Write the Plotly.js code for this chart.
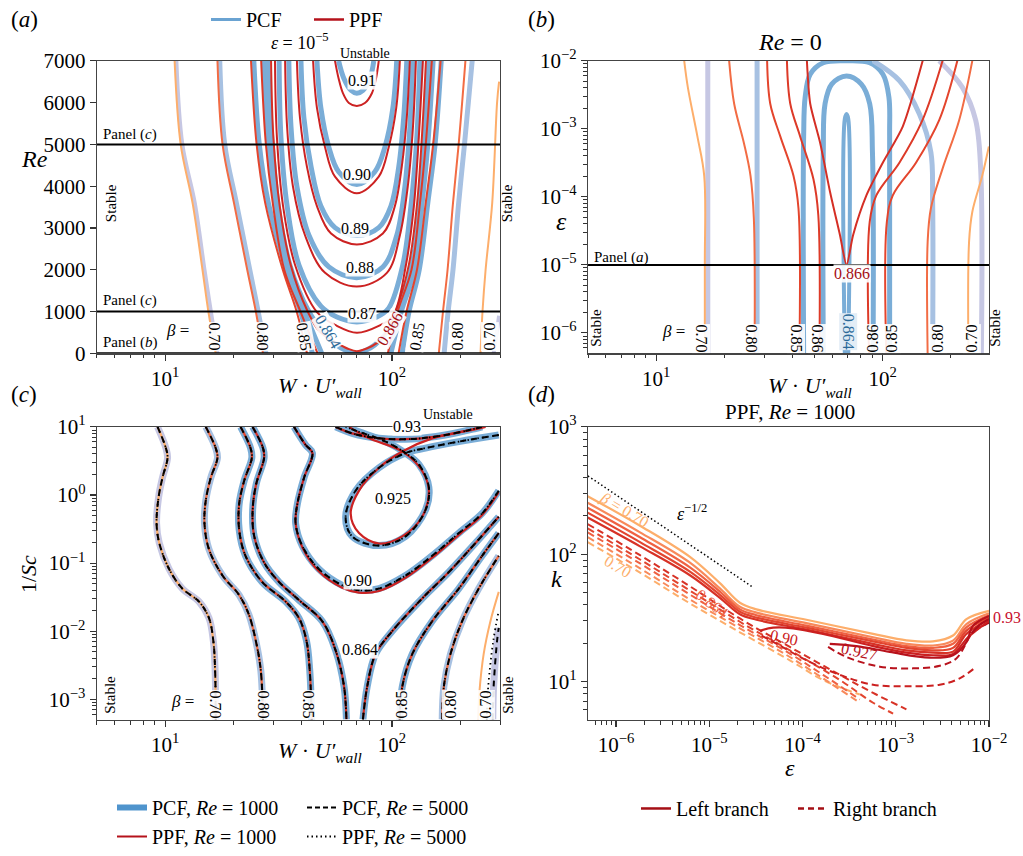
<!DOCTYPE html>
<html><head><meta charset="utf-8">
<script src="https://cdn.plot.ly/plotly-3.0.1.min.js"></script>
<style>html,body{margin:0;padding:0;background:#fff}#chart{width:1023px;height:856px}</style>
</head><body><div id="chart"></div>
<script>
// ---------------- Panel (a): eps = 1e-5, Re vs W*U'wall ----------------
const aReArm   = [7000, 5000, 3600, 2000, 1000, 0];
const aPpf070L = [11.0, 11.7, 13.2, 14.6, 15.5, 16.7];
const aPcf070L = [11.2, 11.9, 13.5, 14.9, 15.9, 17.0];
const aPpf080L = [17.0, 17.9, 20.1, 23.0, 25.1, 27.0];
const aPcf080L = [17.4, 18.3, 20.6, 23.6, 25.7, 27.8];
const aPpf085L = [23.9, 25.3, 27.6, 33.0, 38.0, 42.2];
const aPcf085L = [24.6, 26.0, 28.5, 34.2, 39.5, 44.6];
const aPpf086L = [26.5, 27.8, 29.8, 33.5, 39.5, 47.0];
const aPcf086L = [27.2, 28.6, 30.6, 34.5, 41.0, 49.0];
const aPpf086R = [150, 141, 133, 122, 106, 96];
const aPcf086R = [152, 144, 136, 126, 110, 99];
const aPpf085R = [164, 152, 141, 129, 116, 107];
const aPcf085R = [165, 155, 144, 132, 119, 111];
const aPpf080R = [211, 197, 186, 176, 168, 161];
const aPcf080R = [226, 209, 197, 186, 177, 170];
const aRe070R  = [6500, 6000, 3600, 2000, 1000, 0];
const aPpf070R = [297, 291, 277, 259, 251, 246];
const aRe070Rb = [900, 500, 0];
const aPcf070R = [297, 290, 281];
const aPcf0864W  = [28.3, 29.5, 31.5, 35.5, 43, 50, 57, 63, 69, 76, 84, 95, 106, 122.6, 132.8, 139.7, 145.5];
const aPcf0864Re = [7000, 5170, 3520, 2110, 1000, 500, 200, 60, 0, 60, 200, 500, 1000, 2110, 3520, 5170, 7000];
const aPpf0866W  = [29.3, 30.0, 32.0, 35.8, 42.5, 48, 57, 64, 70, 77, 86, 95, 104, 118.7, 128.8, 135.6, 141.3];
const aPpf0866Re = [7000, 5170, 3520, 2110, 1000, 520, 250, 110, 50, 110, 250, 520, 1000, 2110, 3520, 5170, 7000];
const aPpf087W  = [30.5, 31.1, 33.1, 37.4, 46.7, 57.2, 70, 87.5, 101, 115.3, 125, 131.4, 137];
const aPpf087Re = [7000, 5168, 3524, 2114, 987, 658, 493, 658, 893, 2114, 3524, 5168, 7000];
const aPcf087W  = [31.8, 32.4, 34.5, 38.9, 48.6, 57.2, 70, 85.8, 96.8, 111.7, 121.3, 128.8, 132.8];
const aPcf087Re = [7000, 5168, 3524, 2114, 1128, 869, 752, 869, 1081, 2114, 3524, 5168, 7000];
const aPcf088W  = [35.1, 35.9, 38.1, 43.1, 52.7, 70, 91.2, 105, 114.1, 120, 123.8];
const aPcf088Re = [7000, 5403, 3993, 2819, 2067, 1809, 2067, 2819, 3993, 5403, 7000];
const aPpf088W  = [33.8, 34.5, 36.6, 41.4, 50.7, 70, 95.0, 108.4, 117.5, 123.8, 127.6];
const aPpf088Re = [7000, 5403, 3993, 2819, 1926, 1597, 1926, 2819, 3993, 5403, 7000];
const aPcf089W  = [39.7, 40.9, 44.0, 48.6, 56.1, 70, 87.5, 99.0, 107.2, 112.7, 116.3];
const aPcf089Re = [7000, 5638, 4463, 3524, 3007, 2819, 3007, 3524, 4463, 5638, 7000];
const aPpf089W  = [38.1, 39.3, 42.2, 46.7, 53.9, 70, 91.2, 103.1, 110.5, 116.3, 120.0];
const aPpf089Re = [7000, 5638, 4463, 3524, 2866, 2607, 2866, 3524, 4463, 5638, 7000];
const aPcf090W  = [46.7, 48.6, 52.7, 58.2, 70, 84.1, 93.1, 101, 105];
const aPcf090Re = [7000, 5873, 4933, 4346, 4040, 4346, 4933, 5873, 7000];
const aPpf090W  = [44.9, 46.7, 50.7, 56.1, 70, 87.5, 96.8, 104.5, 108.4];
const aPpf090Re = [7000, 5873, 4933, 4228, 3829, 4228, 4933, 5873, 7000];
const aPcf091W  = [58.2, 61.4, 65.9, 70.0, 74.5, 80.0, 83.2];
const aPcf091Re = [7000, 6577, 6295, 6225, 6295, 6577, 7000];
const aPpf091W  = [56.1, 58.2, 60.8, 64.6, 70.0, 76.0, 81.6, 85.1, 87.5];
const aPpf091Re = [7000, 6577, 6225, 5990, 5920, 5990, 6225, 6577, 7000];
const panelW   = [5, 300];
const aPanelRe = [5000, 1000, 0];

// ---------------- Panel (b): Re = 0, eps vs W*U'wall ----------------
const bEdge    = [1e-2, 4.8e-7];
const bPcf070L = [16.9, 16.9];
const bPcf080L = [27.9, 27.9];
const bEps070L = [1e-2, 4.07e-3, 7.8e-4, 2.04e-4, 1.02e-5, 4.8e-7];
const bPpf070L = [13.3, 13.8, 15.2, 16.3, 16.4, 16.4];
const bEps080L = [1e-2, 2.34e-3, 6.2e-4, 2.04e-4, 4.8e-5, 4.8e-7];
const bPpf080L = [21.0, 22.1, 24.4, 26.1, 27.0, 27.2];
const bEps085L = [1e-2, 2.34e-3, 7.8e-4, 2.04e-4, 6.8e-5, 4.8e-7];
const bPpf085L = [30.9, 31.9, 35.3, 40.4, 42.5, 42.9];
const bEps086L = [1e-2, 2.34e-3, 7.8e-4, 1.82e-4, 5.4e-5, 4.8e-7];
const bPpf086L = [37.8, 39.1, 43.2, 49.5, 52.0, 52.6];
const bEps0866 = [1e-2, 2.34e-3, 6.2e-4, 1.18e-4, 2.75e-5, 1.0e-5, 2.75e-5, 1.05e-4, 3.2e-4, 1.08e-3, 1e-2];
const bPpf0866 = [46.3, 47.9, 53.0, 58.6, 64.8, 69.3, 74.1, 84.8, 100.3, 122.7, 150.3];
const bEps08xR = [1e-2, 1.34e-3, 3.2e-4, 1.05e-4, 4.3e-5, 4.8e-7];
const bPpf086R = [184, 150, 118.8, 93.8, 87.7, 87.1];
const bPpf085R = [213.8, 177.8, 140.6, 110.9, 104.4, 103.8];
const bEps080R = [1e-2, 1.34e-3, 2.6e-4, 6.8e-5, 2.2e-5, 4.8e-7];
const bPpf080R = [248.9, 217.8, 184, 163.4, 158.1, 158.1];
const bEps070R = [5.5e-4, 2.04e-4, 6.0e-5, 2.2e-5, 4.8e-7];
const bPpf070R = [294.6, 275.4, 248.9, 240.9, 239.3];
const bEpsP070R = [1e-2, 4.07e-3, 1.34e-3, 2.6e-4, 4.8e-7];
const bPcf070R  = [177.8, 225, 257.6, 271, 272.9];
const bEpsP080R = [1e-2, 5.1e-3, 1.67e-3, 4.5e-4, 8.4e-5, 4.8e-7];
const bPcf080R  = [90.8, 118.8, 145.2, 163.4, 166.3, 166.3];
const bEpsP085  = [4.8e-7, 7.8e-4, 2.92e-3, 6.35e-3, 9.35e-3, 1e-2, 9.35e-3, 6.35e-3, 2.92e-3, 7.8e-4, 4.8e-7];
const bPcf085   = [44.8, 44.8, 45.5, 47.9, 54.7, 69.3, 87.7, 100.3, 106.6, 107.4, 107.4];
const bEpsP086  = [4.8e-7, 4.43e-4, 2.34e-3, 4.55e-3, 6.0e-3, 4.55e-3, 2.34e-3, 4.43e-4, 4.8e-7];
const bPcf086   = [54.7, 54.7, 55.7, 59.6, 69.3, 80.5, 87.7, 90.2, 90.8];
const bEpsP0864 = [4.8e-7, 1.4e-3, 1.65e-3, 1.4e-3, 4.8e-7];
const bPcf0864  = [68.1, 68.1, 69.3, 70.5, 70.5];
const bPanelEps = [1e-5];

// ---------------- Panel (c): 1/Sc vs W*U'wall ----------------
const c070LW = [9.25, 10.07, 10.24, 9.73, 9.35, 9.16, 9.41, 10.4, 11.9, 14.1, 15.6, 16.3, 16.6, 16.7];
const c070LS = [10, 4.88, 3.50, 1.81, 0.93, 0.385, 0.198, 0.082, 0.0423, 0.0272, 0.0156, 0.00722, 0.00267, 0.000509];
const c080LW = [15.1, 16.7, 17.0, 15.9, 15.1, 14.9, 15.6, 17.9, 21.2, 23.4, 25.1, 26.4, 27.0];
const c080LS = [10, 4.88, 3.50, 1.81, 0.834, 0.385, 0.159, 0.0657, 0.0339, 0.0175, 0.00722, 0.00267, 0.000509];
const c085LW = [21.5, 23.8, 24.1, 22.3, 21.2, 21.2, 22.6, 26.8, 34.0, 38.9, 42.0, 43.4, 44.3];
const c085LS = [10, 4.88, 3.50, 1.62, 0.746, 0.308, 0.128, 0.0527, 0.0272, 0.0156, 0.00722, 0.00267, 0.000509];
const c0864LW = [24.3, 27.0, 27.3, 25.2, 24.3, 24.7, 27.3, 31.8, 38.9, 49.3, 56.5, 61.5, 63.0];
const c0864LS = [10, 4.88, 3.50, 1.45, 0.598, 0.247, 0.102, 0.0527, 0.0287, 0.0140, 0.00519, 0.00154, 0.000509];
const c0864RW = [74.5, 77.8, 84.7, 100.2, 136, 178, 234, 296];
const c0864RS = [0.000509, 0.00154, 0.00464, 0.01, 0.0303, 0.0735, 0.198, 0.48];
const c090W = [37.0, 41.6, 44.6, 41.0, 38.3, 37.6, 40.3, 47.6, 60.4, 71.6, 87.7, 114.9, 150.5, 197.3, 250, 296];
const c090S = [10, 5.45, 4.13, 1.81, 0.746, 0.385, 0.177, 0.082, 0.0472, 0.040, 0.0423, 0.0657, 0.128, 0.276, 0.536, 1.16];
const c090PpfS = [10, 5.45, 4.13, 1.81, 0.746, 0.385, 0.170, 0.076, 0.0435, 0.037, 0.039, 0.061, 0.12, 0.26, 0.51, 1.1];
const c0925W = [296, 197.3, 140.6, 114.9, 87.7, 69.2, 62.5, 66.8, 87.7, 114.9, 140.6, 145.5, 131.5, 114.9, 93.8, 71.6, 62.5];
const c0925S = [7.59, 6.08, 4.88, 4.13, 2.51, 1.16, 0.48, 0.247, 0.181, 0.247, 0.598, 1.30, 2.81, 4.13, 6.08, 8.47, 10];
const c0925PpfW = [64.7, 79.3, 111.1, 136, 145.5, 136, 111.1, 87.7, 71.6, 65.8, 71.6, 87.7, 111.1, 150.5, 234, 259];
const c0925PpfS = [10, 6.79, 4.36, 2.25, 1.16, 0.48, 0.247, 0.194, 0.276, 0.536, 1.16, 2.51, 4.36, 6.79, 9.25, 10];
const c093W = [56.5, 66.8, 87.7, 123, 172, 234, 250];
const c093S = [10, 8.02, 6.79, 6.65, 7.59, 9.46, 10];
const c085RW = [108.2, 111.1, 123, 150.5, 197.3, 250, 296];
const c085RS = [0.000509, 0.00154, 0.00464, 0.014, 0.0423, 0.128, 0.276];
const c080RW = [166.7, 169.5, 181.3, 204, 241.5, 296];
const c080RS = [0.000509, 0.00154, 0.00464, 0.014, 0.0423, 0.128];
const c070RppfW = [240, 243, 254, 272, 296];
const c070RppfS = [0.000509, 0.00123, 0.00464, 0.014, 0.0378];
const c070RpcfW = [278.6, 281, 291, 296];
const c070RpcfS = [0.000509, 0.00154, 0.00722, 0.0112];
const c070RdotW = [262, 266, 280, 296];
const c070RdotS = [0.000509, 0.00154, 0.00722, 0.02];

// ---------------- Panel (d): PPF, Re = 1000, k vs eps ----------------
const dEpsL   = [4.97e-7, 1.81e-6, 6.21e-6, 1.30e-5, 2.13e-5, 3.21e-5, 1.10e-4, 5.71e-4, 1.30e-3, 2.51e-3, 4.11e-3, 5.72e-3, 1e-2];
const dKL070  = [285.6, 167.5, 95.3, 59.3, 41.6, 36.9, 30.6, 23.7, 21.1, 20.7, 23.0, 30.9, 35.9];
const dKL080  = [253.6, 148.6, 85.8, 53.9, 38.7, 34.8, 28.8, 22.3, 19.8, 19.2, 21.0, 28.3, 34.4];
const dKL085  = [232, 136, 78.9, 50.9, 36.9, 33.2, 27.5, 21.4, 19.0, 18.4, 19.8, 26.7, 33.2];
const dKL086  = [212, 124.5, 73.1, 48.0, 35.3, 31.8, 26.5, 20.7, 18.4, 17.6, 18.4, 25.1, 32.0];
const dKL0864 = [194, 115.3, 68.4, 45.5, 33.8, 30.6, 25.6, 19.8, 17.6, 16.9, 17.2, 23.7, 30.9];
const dEpsL090 = [3.49e-5, 4.85e-5, 7.94e-5, 1.66e-4, 5.71e-4, 1.30e-3, 2.51e-3, 4.11e-3, 5.96e-3, 1e-2];
const dKL090   = [25.1, 26.5, 26.2, 23.7, 19.0, 16.9, 16.1, 16.5, 22.3, 30.0];
const dEpsL0927 = [1.96e-4, 3.79e-4, 8.63e-4, 2.31e-3, 4.11e-3, 5.72e-3, 6.74e-3, 1e-2];
const dKL0927   = [19.8, 19.0, 17.1, 15.4, 16.1, 20.4, 27.5, 32.8];
const dEpsL093 = [6.5e-3, 8e-3, 1e-2];
const dKL093   = [24, 28, 31];
const dEpsR0864 = [4.97e-7, 1.81e-6, 6.21e-6, 2.13e-5, 7.31e-5, 2.51e-4, 5.71e-4, 1.30e-3];
const dKR0864   = [172.6, 98.3, 56.0, 31.3, 18.7, 11.3, 8.15, 6.06];
const dEpsR086  = [4.97e-7, 1.81e-6, 6.21e-6, 2.13e-5, 7.31e-5, 2.51e-4, 5.71e-4, 9.36e-4];
const dKR086    = [159.7, 90.9, 51.8, 29.5, 17.6, 10.3, 6.82, 5.61];
const dEpsR08x  = [4.97e-7, 1.81e-6, 6.21e-6, 2.13e-5, 7.31e-5, 1.66e-4, 4.11e-4];
const dKR085    = [148.6, 84.7, 48.2, 27.8, 16.6, 11.3, 7.24];
const dKR080    = [136.0, 77.5, 44.1, 26.2, 15.6, 10.6, 6.82];
const dKR070    = [124.5, 71.7, 41.1, 24.4, 14.7, 10.3, 7.91];
const dEpsR090  = [3.64e-5, 5.72e-5, 1.10e-4, 2.51e-4, 5.71e-4, 1.30e-3, 2.96e-3, 4.85e-3, 7.31e-3];
const dKR090    = [23.0, 19.2, 14.7, 11.3, 9.45, 9.18, 9.45, 10.6, 13.1];
const dEpsR0927 = [1.88e-4, 2.96e-4, 6.74e-4, 1.53e-3, 2.96e-3, 4.46e-3, 6.74e-3, 9.36e-3];
const dKR0927   = [18.7, 15.6, 13.1, 12.7, 13.3, 15.2, 24.4, 28.3];
const dEpsR093  = [7e-3, 8.5e-3, 1e-2];
const dKR093    = [25, 27.5, 29];
const dEpsSlope = [5e-7, 3e-5];
const dKSlope   = [412, 54.5];

// ---------------- styling ----------------
const FONT = '"Liberation Serif", "Times New Roman", "DejaVu Serif", serif';
const C = {
  pcf70: '#c6c7e3', pcf80: '#a7c1e2', pcf: '#7aadd7',
  ppf70: '#fdae6b', ppf80: '#f26c44', ppf85: '#e4452d', ppf86: '#dd3a28', ppf866: '#d52f25', ppfHi: '#cc2222'
};
const D = { d70: '#fdae6b', d80: '#f8895a', d85: '#ef6142', d86: '#e2452f', d864: '#d73226', d90: '#cb2020', d927: '#b8121c', d93: '#b00d1a' };

const traces = [];
function L(x, y, ax, color, width, dash, smooth) {
  const s = ax === 1 ? '' : String(ax);
  traces.push({
    type: 'scatter', mode: 'lines', x: x, y: y, xaxis: 'x' + s, yaxis: 'y' + s,
    line: { color: color, width: width, dash: dash || 'solid', shape: smooth === 0 ? 'linear' : 'spline', smoothing: smooth === undefined ? 1 : smooth },
    hoverinfo: 'skip', showlegend: false
  });
}

// ---- (a) ----
L(aPcf070L, aReArm, 1, C.pcf70, 4);
L(aPcf080L, aReArm, 1, C.pcf80, 5);
L(aPcf085L, aReArm, 1, C.pcf, 5);
L(aPcf086L, aReArm, 1, C.pcf, 5);
L(aPcf0864W, aPcf0864Re, 1, C.pcf, 5);
L(aPcf087W, aPcf087Re, 1, C.pcf, 5);
L(aPcf088W, aPcf088Re, 1, C.pcf, 5);
L(aPcf089W, aPcf089Re, 1, C.pcf, 5);
L(aPcf090W, aPcf090Re, 1, C.pcf, 5);
L(aPcf091W, aPcf091Re, 1, C.pcf, 5);
L(aPcf086R, aReArm, 1, C.pcf, 5);
L(aPcf085R, aReArm, 1, C.pcf, 5);
L(aPcf080R, aReArm, 1, C.pcf80, 5);
L(aPcf070R, aRe070Rb, 1, C.pcf70, 4);
L(aPpf070L, aReArm, 1, C.ppf70, 2);
L(aPpf080L, aReArm, 1, C.ppf80, 2);
L(aPpf085L, aReArm, 1, C.ppf85, 2);
L(aPpf086L, aReArm, 1, C.ppf86, 2);
L(aPpf0866W, aPpf0866Re, 1, C.ppf866, 2);
L(aPpf087W, aPpf087Re, 1, C.ppfHi, 2);
L(aPpf088W, aPpf088Re, 1, C.ppfHi, 2);
L(aPpf089W, aPpf089Re, 1, C.ppfHi, 2);
L(aPpf090W, aPpf090Re, 1, C.ppfHi, 2);
L(aPpf091W, aPpf091Re, 1, C.ppfHi, 2);
L(aPpf086R, aReArm, 1, C.ppf86, 2);
L(aPpf085R, aReArm, 1, C.ppf85, 2);
L(aPpf080R, aReArm, 1, C.ppf80, 2);
L(aPpf070R, aRe070R, 1, C.ppf70, 2);
aPanelRe.forEach(r => L(panelW, [r, r], 1, '#000', 2, 'solid', 0));

// ---- (b) ----
L(bPcf070L, bEdge, 2, C.pcf70, 5, 'solid', 0);
L(bPcf080L, bEdge, 2, C.pcf80, 5, 'solid', 0);
L(bPcf085, bEpsP085, 2, C.pcf, 5);
L(bPcf086, bEpsP086, 2, C.pcf, 5);
L(bPcf0864, bEpsP0864, 2, C.pcf, 4);
L(bPcf080R, bEpsP080R, 2, C.pcf80, 5);
L(bPcf070R, bEpsP070R, 2, C.pcf70, 5);
L(bPpf070L, bEps070L, 2, C.ppf70, 2);
L(bPpf080L, bEps080L, 2, C.ppf80, 2);
L(bPpf085L, bEps085L, 2, C.ppf85, 2);
L(bPpf086L, bEps086L, 2, C.ppf86, 2);
L(bPpf0866, bEps0866, 2, C.ppf866, 2, 'solid', 0.7);
L(bPpf086R, bEps08xR, 2, C.ppf86, 2);
L(bPpf085R, bEps08xR, 2, C.ppf85, 2);
L(bPpf080R, bEps080R, 2, C.ppf80, 2);
L(bPpf070R, bEps070R, 2, C.ppf70, 2);
bPanelEps.forEach(e => L(panelW, [e, e], 2, '#000', 2, 'solid', 0));

// ---- (c) ----  [PCF W, PCF 1/Sc, PCF colour, PPF colour, PPF W, PPF 1/Sc]
const cSets = [
  [c070LW, c070LS, C.pcf70, C.ppf70],
  [c080LW, c080LS, C.pcf80, C.ppf80],
  [c085LW, c085LS, C.pcf, C.ppf85],
  [c0864LW, c0864LS, C.pcf, C.ppf866],
  [c0864RW, c0864RS, C.pcf, C.ppf866],
  [c090W, c090S, C.pcf, C.ppfHi, c090W, c090PpfS],
  [c0925W, c0925S, C.pcf, C.ppfHi, c0925PpfW, c0925PpfS],
  [c093W, c093S, C.pcf, C.ppfHi],
  [c085RW, c085RS, C.pcf, C.ppf85],
  [c080RW, c080RS, C.pcf80, C.ppf80]
];
cSets.forEach(s => L(s[0], s[1], 3, s[2], 7));
L(c070RpcfW, c070RpcfS, 3, C.pcf70, 7);
cSets.forEach(s => L(s[4] || s[0], s[5] || s[1], 3, s[3], 2.2));
L(c070RppfW, c070RppfS, 3, C.ppf70, 2);
cSets.forEach(s => L(s[0], s[1], 3, '#000', 2, '6px,5px'));
L(c070RpcfW, c070RpcfS, 3, '#000', 2, '6px,5px');
cSets.forEach(s => L(s[0], s[1], 3, '#000', 1.8, '1.5px,3.5px'));
L(c070RdotW, c070RdotS, 3, '#000', 1.8, '1.5px,3.5px');

// ---- (d) ----
L(dEpsSlope, dKSlope, 4, '#000', 1.5, '1.5px,2.5px', 0);
L(dEpsR08x, dKR070, 4, D.d70, 2, '7px,4px');
L(dEpsR08x, dKR080, 4, D.d80, 2, '7px,4px');
L(dEpsR08x, dKR085, 4, D.d85, 2, '7px,4px');
L(dEpsR086, dKR086, 4, D.d86, 2, '7px,4px');
L(dEpsR0864, dKR0864, 4, D.d864, 2, '7px,4px');
L(dEpsR090, dKR090, 4, D.d90, 2, '7px,4px');
L(dEpsR0927, dKR0927, 4, D.d927, 2, '7px,4px');
L(dEpsR093, dKR093, 4, D.d93, 2, '7px,4px');
L(dEpsL, dKL070, 4, D.d70, 2.2);
L(dEpsL, dKL080, 4, D.d80, 2.2);
L(dEpsL, dKL085, 4, D.d85, 2.2);
L(dEpsL, dKL086, 4, D.d86, 2.2);
L(dEpsL, dKL0864, 4, D.d864, 2.2);
L(dEpsL090, dKL090, 4, D.d90, 2.2);
L(dEpsL0927, dKL0927, 4, D.d927, 2.2);
L(dEpsL093, dKL093, 4, D.d93, 2.2);

// ---- legend entries ----
function LG(name, color, width, dash, legend, s) {
  traces.push({ type: 'scatter', mode: 'lines', x: [null], y: [null], xaxis: 'x' + s, yaxis: 'y' + s,
    name: name, line: { color: color, width: width, dash: dash }, legend: legend, showlegend: true, hoverinfo: 'skip' });
}
LG('PCF', '#6aa3d2', 3, 'solid', 'legend', '');
LG('PPF', '#b5121b', 2.5, 'solid', 'legend', '');
LG('PCF, <i>Re</i> = 1000', '#4f94cd', 6, 'solid', 'legend2', '3');
LG('PCF, <i>Re</i> = 5000', '#000', 2, '5px,3px', 'legend2', '3');
LG('PPF, <i>Re</i> = 1000', '#b5121b', 2, 'solid', 'legend3', '3');
LG('PPF, <i>Re</i> = 5000', '#000', 2, '1.5px,3px', 'legend3', '3');
LG('Left branch', '#a50f15', 2.5, 'solid', 'legend4', '4');
LG('Right branch', '#a50f15', 2.5, '6px,4px', 'legend4', '4');

// ---------------- axes ----------------
function minorLog(lo, hi) {
  const v = [];
  for (let e = Math.floor(Math.log10(lo)); e <= Math.ceil(Math.log10(hi)); e++)
    for (let k = 2; k <= 9; k++) { const t = k * Math.pow(10, e); if (t >= lo * 0.999 && t <= hi * 1.001) v.push(t); }
  return v;
}
function pw(e) { return '10<sup>' + (e < 0 ? '\u2212' + (-e) : e) + '</sup>'; }
const tickFont = { family: FONT, size: 21, color: '#000' };
function ax(domain, anchor, type, range, tv, tt, minorVals) {
  const a = {
    domain: domain, anchor: anchor, type: type, range: range,
    showline: true, linecolor: '#444', linewidth: 1.3, mirror: true,
    ticks: 'outside', ticklen: 6, tickwidth: 1.2, tickcolor: '#333',
    showgrid: false, zeroline: false, tickfont: tickFont, fixedrange: true
  };
  if (tv) { a.tickmode = 'array'; a.tickvals = tv; a.ticktext = tt; }
  if (minorVals) a.minor = { tickmode: 'array', tickvals: minorVals, ticks: 'outside', ticklen: 3.5, tickwidth: 1, tickcolor: '#333', showgrid: false };
  return a;
}
const Wt = [10, 100], WtT = [pw(1), pw(2)];
const Wminor = minorLog(5, 300);
const xDomL = [0.0948, 0.4888], xDomR = [0.5748, 0.9668];
const yDomT = [0.5794, 0.9276], yDomB = [0.1431, 0.4918];

const legFont = { family: FONT, size: 20, color: '#000' };
const layout = {
  width: 1023, height: 856, margin: { l: 0, r: 0, t: 0, b: 0 },
  paper_bgcolor: '#fff', plot_bgcolor: '#fff', hovermode: false,
  font: { family: FONT, size: 18, color: '#000' },
  showlegend: true,
  xaxis:  ax(xDomL, 'y', 'log', [0.699, 2.477], Wt, WtT, Wminor),
  yaxis:  Object.assign(ax(yDomT, 'x', 'linear', [0, 7000]), { tickmode: 'linear', tick0: 0, dtick: 1000 }),
  xaxis2: ax(xDomR, 'y2', 'log', [0.699, 2.47], Wt, WtT, Wminor),
  yaxis2: ax(yDomT, 'x2', 'log', [-6.3, -2], [1e-6, 1e-5, 1e-4, 1e-3, 1e-2], [pw(-6), pw(-5), pw(-4), pw(-3), pw(-2)], minorLog(5e-7, 1e-2)),
  xaxis3: ax(xDomL, 'y3', 'log', [0.699, 2.477], Wt, WtT, Wminor),
  yaxis3: ax(yDomB, 'x3', 'log', [-3.3, 1], [1e-3, 1e-2, 1e-1, 1, 10], [pw(-3), pw(-2), pw(-1), pw(0), pw(1)], minorLog(5e-4, 10)),
  xaxis4: ax(xDomR, 'y4', 'log', [-6.3, -2], [1e-6, 1e-5, 1e-4, 1e-3, 1e-2], [pw(-6), pw(-5), pw(-4), pw(-3), pw(-2)], minorLog(5e-7, 1e-2)),
  yaxis4: ax(yDomB, 'x4', 'log', [0.7, 3], [10, 100, 1000], [pw(1), pw(2), pw(3)], minorLog(5, 1000)),
  legend:  { x: 206 / 1023, y: 1.0, xanchor: 'left', yanchor: 'top', orientation: 'h', font: legFont, bgcolor: 'rgba(0,0,0,0)', itemwidth: 30, entrywidth: 58, entrywidthmode: 'pixels', tracegroupgap: 0 },
  legend2: { x: 112 / 1023, y: 1 - 803 / 856, xanchor: 'left', yanchor: 'top', orientation: 'h', font: legFont, bgcolor: 'rgba(0,0,0,0)', itemwidth: 30, entrywidth: 145, entrywidthmode: 'pixels' },
  legend3: { x: 112 / 1023, y: 1 - 833 / 856, xanchor: 'left', yanchor: 'top', orientation: 'h', font: legFont, bgcolor: 'rgba(0,0,0,0)', itemwidth: 30, entrywidth: 145, entrywidthmode: 'pixels' },
  legend4: { x: 636 / 1023, y: 1 - 804 / 856, xanchor: 'left', yanchor: 'top', orientation: 'h', font: legFont, bgcolor: 'rgba(0,0,0,0)', itemwidth: 30, entrywidth: 112, entrywidthmode: 'pixels' },
  annotations: []
};

function T(text, x, y, size, o) {
  o = o || {};
  layout.annotations.push({
    text: text, x: x / 1023, y: 1 - y / 856, xref: 'paper', yref: 'paper', showarrow: false,
    font: { family: FONT, size: size || 16, color: o.color || '#000' },
    xanchor: o.xanchor || 'center', yanchor: 'middle', textangle: o.angle || 0,
    bgcolor: o.bg || 'rgba(0,0,0,0)', borderpad: o.pad === undefined ? 0 : o.pad
  });
}
const WB = 'rgba(255,255,255,0.9)';
const WTitle = '<i>W</i> \u00b7 <i>U\u2032<sub>wall</sub></i>';
T('(<i>a</i>)', 24, 20, 23); T('(<i>b</i>)', 541, 20, 23); T('(<i>c</i>)', 24, 402, 23); T('(<i>d</i>)', 541, 402, 23);
T('<i>\u03b5</i> = 10<sup>\u22125</sup>', 300, 42, 18);
T('<i>Re</i> = 0', 790, 43, 24);
T('PPF, <i>Re</i> = 1000', 790, 420, 21);
T('<i>Re</i>', 34, 162, 24); T('<i>\u03b5</i>', 561, 226, 26); T('<i>k</i>', 556, 590, 24);
T('1/<i>Sc</i>', 28, 585, 22, { angle: -90 });
T(WTitle, 320, 394, 22); T(WTitle, 810, 394, 22); T(WTitle, 320, 766, 22); T('<i>\u03b5</i>', 790, 783, 24);
// (a)
T('Unstable', 365, 55, 14);
T('Panel (<i>c</i>)', 102, 137, 15, { xanchor: 'left' });
T('Panel (<i>c</i>)', 102, 306, 15, { xanchor: 'left' });
T('Panel (<i>b</i>)', 102, 349, 15, { xanchor: 'left' });
T('<i>\u03b2</i> =', 177, 337, 17);
T('Stable', 111, 207, 15, { angle: -90 }); T('Stable', 507, 207, 15, { angle: -90 });
[['0.91', 362, 82], ['0.90', 357, 178], ['0.89', 355, 233], ['0.88', 360, 273], ['0.87', 362, 319]].forEach(t => T(t[0], t[1], t[2], 16, { bg: WB }));
T('0.70', 214, 343, 16, { angle: 90, bg: WB }); T('0.80', 262, 343, 16, { angle: 90, bg: WB }); T('0.85', 304, 343, 16, { angle: 80, bg: WB });
T('0.864', 328, 338, 16, { angle: 60, color: '#2b6a99', bg: WB }); T('0.866', 390, 335, 16, { angle: -60, color: '#a50f15', bg: WB });
T('0.85', 417, 343, 16, { angle: -80, bg: WB }); T('0.80', 458, 343, 16, { angle: -90, bg: WB }); T('0.70', 490, 343, 16, { angle: -90, bg: WB });
// (b)
T('Panel (<i>a</i>)', 593, 262, 15, { xanchor: 'left' });
T('0.866', 852, 279, 16, { color: '#a50f15', bg: WB });
T('Stable', 596, 334, 15, { angle: -90 }); T('Stable', 995, 334, 15, { angle: -90 });
T('<i>\u03b2</i> =', 673, 338, 17);
T('0.70', 701, 345, 16, { angle: 90, bg: WB }); T('0.80', 751, 345, 16, { angle: 90, bg: WB }); T('0.85', 796, 345, 16, { angle: 90, bg: WB }); T('0.86', 817, 345, 16, { angle: 90, bg: WB });
T('0.864', 848, 338, 16, { angle: 90, color: '#2b6a99', bg: 'rgba(225,236,246,0.95)' });
T('0.86', 873, 345, 16, { angle: -90, bg: WB }); T('0.85', 892, 345, 16, { angle: -90, bg: WB }); T('0.80', 938, 345, 16, { angle: -90, bg: WB }); T('0.70', 972, 345, 16, { angle: -90, bg: WB });
// (c)
T('Unstable', 448, 422, 14);
T('0.93', 407, 435, 16, { bg: '#fff' });
T('0.925', 393, 508, 16);
T('0.90', 358, 592, 16, { bg: WB });
T('0.864', 360, 662, 16, { bg: WB });
T('Stable', 110, 708, 15, { angle: -90 }); T('Stable', 508, 708, 15, { angle: -90 });
T('<i>\u03b2</i> =', 182, 715, 17);
T('0.70', 215, 718, 16, { angle: 90, bg: WB }); T('0.80', 263, 718, 16, { angle: 90, bg: WB }); T('0.85', 308, 718, 16, { angle: 90, bg: WB });
T('0.85', 402, 718, 16, { angle: -90, bg: WB }); T('0.80', 451, 718, 16, { angle: -90, bg: WB }); T('0.70', 486, 718, 16, { angle: -90, bg: WB });
// (d)
T('<i>\u03b5</i><sup>\u22121/2</sup>', 692, 522, 18);
T('<i>\u03b2</i> = 0.70', 624, 520, 16, { angle: 31, color: D.d70 });
T('0.70', 618, 577, 16, { angle: 31, color: D.d70 });
T('0.864', 712, 615, 16, { angle: 38, color: D.d85 });
T('0.90', 784, 650, 16, { angle: 12, color: D.d90 });
T('0.927', 859, 664, 16, { angle: 12, color: D.d927 });
T('0.93', 992, 629, 16, { color: '#c8102e', xanchor: 'left' });

Plotly.newPlot('chart', traces, layout, { staticPlot: true });
</script></body></html>
